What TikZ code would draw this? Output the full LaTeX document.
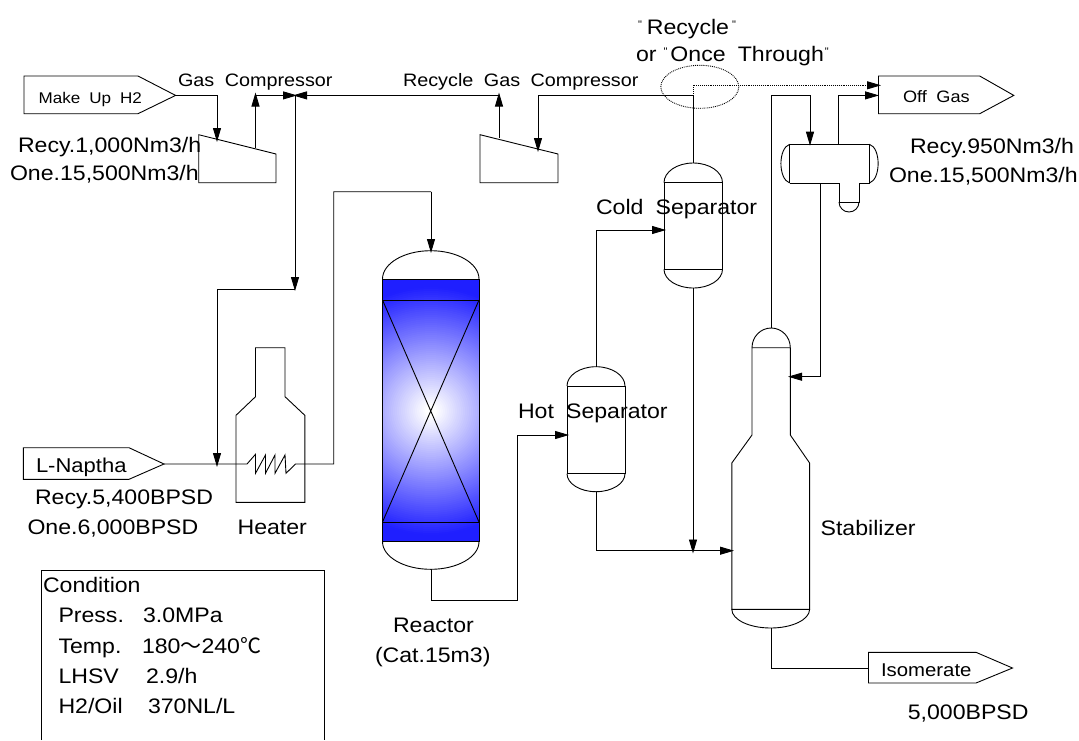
\documentclass[tikz,border=0pt]{standalone}
\usepackage{fontspec}
\setmainfont[FakeStretch=1.1,WordSpace=1.9]{Liberation Sans}
\newfontfamily\cjkjp{Noto Sans CJK JP}
\newfontfamily\quotefont{Liberation Sans}
\newcommand{\tinyq}{\raisebox{6pt}{\quotefont\fontsize{11}{11}\selectfont\char34}}
\usetikzlibrary{arrows.meta}
\newcommand{\domeTo}[4]{.. controls (#1,{#3+0.5523*(#4-#3)}) and ({(#1+#2)/2-0.5523*(#2-#1)/2},#4) .. ({(#1+#2)/2},#4) .. controls ({(#1+#2)/2+0.5523*(#2-#1)/2},#4) and (#2,{#3+0.5523*(#4-#3)}) .. (#2,#3)}
\tikzset{
  eq/.style={draw=black,line width=0.9pt,line join=miter},
  pipe/.style={draw=black,line width=0.9pt},
  flowtip/.style={-{Triangle[length=14pt,width=8pt]}},
  flow/.style={pipe,flowtip},
  dotline/.style={draw=black,line width=0.9pt,densely dotted},
  lbl/.style={anchor=base west,inner sep=0pt,outer sep=0pt,font=\fontsize{21}{24}\selectfont},
  lblmd/.style={lbl,font=\fontsize{18}{21}\selectfont},
  lblsm/.style={lbl,font=\fontsize{15.5}{18}\selectfont},
}
\begin{document}
\begin{tikzpicture}[x=1pt,y=-1pt]
\useasboundingbox (0,0) rectangle (1079,740);
% ports
\coordinate (mkTip) at (175.6,95.4);
\coordinate (mkBend) at (217,95.4);
\coordinate (c1In) at (217,142);
\coordinate (c1Out) at (255.5,148);
\coordinate (c1Top) at (255.5,92.5);
\coordinate (c1Hdr) at (255.5,95.4);
\coordinate (valve) at (295,95.4);
\coordinate (valveL) at (297,95.4);
\coordinate (valveR) at (293,95.4);
\coordinate (rcTop) at (499,92.5);
\coordinate (rcHdr) at (499,95.4);
\coordinate (c2Out) at (499,138);
\coordinate (c2In) at (538,152);
\coordinate (c2Bend) at (538,95.4);
\coordinate (csBend) at (693,95.4);
\coordinate (csTop) at (693,163);
\coordinate (csBot) at (693,288);
\coordinate (dropA) at (295,291);
\coordinate (dropB) at (295,289);
\coordinate (feedL) at (217,289);
\coordinate (feedIn) at (217,467);
\coordinate (lnTip) at (164,464);
\coordinate (coilIn) at (247,464);
\coordinate (coilOut) at (295.5,464);
\coordinate (feedR) at (333.7,464);
\coordinate (feedUp) at (333.7,191.7);
\coordinate (rTopBend) at (431,191.7);
\coordinate (rTop) at (431,253);
\coordinate (rBot) at (431,569.3);
\coordinate (rOutB) at (431,600);
\coordinate (rOutC) at (517.6,600);
\coordinate (rOutD) at (517.6,435);
\coordinate (hsIn) at (569,435);
\coordinate (hsTop) at (596,366.7);
\coordinate (hsUp) at (596,230);
\coordinate (csIn) at (666,230);
\coordinate (hsBot) at (596,491.7);
\coordinate (hsCorner) at (596,550.7);
\coordinate (stIn) at (734,550.7);
\coordinate (csDrop) at (693,553.5);
\coordinate (stTop) at (771,328);
\coordinate (stUp) at (771,95.4);
\coordinate (drTopL) at (810,95.4);
\coordinate (drIn) at (810,145.7);
\coordinate (drOff) at (838.5,144.3);
\coordinate (drOffUp) at (838.5,95.4);
\coordinate (offIn) at (879,95.4);
\coordinate (drBot) at (820,183);
\coordinate (refCorner) at (820,376.7);
\coordinate (stRef) at (788,376.7);
\coordinate (stBot) at (771,628);
\coordinate (stCorner) at (771,668);
\coordinate (isoIn) at (868.5,668);
\coordinate (dotA) at (693,85.3);
\coordinate (dotB) at (881,85.3);
% reactor body
\begin{scope}
\clip (382.5,279) rectangle (479,541.7);
\fill[blue!88!white] (382.5,279) rectangle (479,541.7);
\foreach \r in {140,138,...,2} {
  \pgfmathsetmacro{\mixv}{min(88,max(0,100*(\r-6)/135))}
  \fill[blue!\mixv!white] (431,411) circle (\r);
}
\end{scope}
\draw[eq] (382.5,279) rectangle (479,541.7);
\draw[eq] (382.5,279) \domeTo{382.5}{479}{279}{250.7};
\draw[eq] (382.5,541.7) \domeTo{382.5}{479}{541.7}{569.3};
\draw[eq] (382.5,300) -- (479,300) (382.5,522) -- (479,522);
\draw[eq] (382.5,300) -- (479,522) (479,300) -- (382.5,522);
% stream pentagons
\draw[eq] (24,76) -- (138,76) -- (mkTip) -- (138,113.7) -- (24,113.7) -- cycle;
\draw[eq] (23.4,447.7) -- (129,447.7) -- (lnTip) -- (129,479.3) -- (23.4,479.3) -- cycle;
\draw[eq] (878.5,76) -- (979.7,76) -- (1013.8,95.4) -- (979.7,113.7) -- (878.5,113.7) -- cycle;
\draw[eq] (868.5,652.3) -- (976,652.3) -- (1012.5,668) -- (976,683) -- (868.5,683) -- cycle;
% compressors
\draw[eq] (198.7,134.7) -- (276,154) -- (276,182.7) -- (198.7,182.7) -- cycle;
\draw[eq] (480,134.7) -- (558,154) -- (558,182.7) -- (480,182.7) -- cycle;
% heater
\draw[eq] (255.5,396.7) -- (255.5,347.7) -- (285,347.7) -- (285,396.7) -- (304.8,415.3) -- (304.8,502.3) -- (236,502.3) -- (236,415.3) -- cycle;
% hot separator
\draw[eq] (567,386) rectangle (625,473.7);
\draw[eq] (567,386) \domeTo{567}{625}{386}{366.7};
\draw[eq] (567,473.7) \domeTo{567}{625}{473.7}{491.7};
% cold separator
\draw[eq] (664,182.7) rectangle (722.5,269.3);
\draw[eq] (664,182.7) \domeTo{664}{722.5}{182.7}{163};
\draw[eq] (664,269.3) \domeTo{664}{722.5}{269.3}{288};
% stabilizer
\draw[eq] (752,347.7) -- (752,435) -- (731.8,463) -- (731.8,609.3) -- (809.6,609.3) -- (809.6,463) -- (790.3,435) -- (790.3,347.7) -- cycle;
\draw[eq] (752,347.7) \domeTo{752}{790.3}{347.7}{328};
\draw[eq] (731.8,609.3) \domeTo{731.8}{809.6}{609.3}{628};
% overhead drum
\draw[eq] (789.7,183) -- (789.7,144.3) -- (869.5,144.3) -- (869.5,183) -- (859,183) -- (859,202) -- (839,202) -- (839,183) -- (789.7,183);
\draw[eq] (789.7,144.3) .. controls (778,148) and (778,179) .. (789.7,183);
\draw[eq] (869.5,144.3) .. controls (881,148) and (881,179) .. (869.5,183);
\draw[eq] (839,202) \domeTo{839}{859}{202}{212};
% connectors
\draw[flow] (mkTip) -- (mkBend) -- (c1In);
\draw[flow] (c1Out) -- (c1Top);
\draw[flow] (c1Hdr) -- (valveL);
\draw[flow] (rcHdr) -- (valveR);
\draw[flow] (c2Out) -- (rcTop);
\draw[flow] (csTop) -- (csBend) -- (c2Bend) -- (c2In);
\draw[flow] (valve) -- (dropA);
\draw[flow] (dropB) -- (feedL) -- (feedIn);
\draw[pipe] (lnTip) -- (coilIn) -- (255.5,454.3) -- (255.5,473.3) -- (265.5,455) -- (265.5,473.3) -- (275,455) -- (275,473.3) -- (285,455) -- (286,473.3) -- (coilOut) -- (feedR) -- (feedUp) -- (rTopBend);
\draw[flow] (rTopBend) -- (rTop);
\draw[pipe] (rBot) -- (rOutB) -- (rOutC) -- (rOutD);
\draw[flow] (rOutD) -- (hsIn);
\draw[flow] (hsTop) -- (hsUp) -- (csIn);
\draw[flow] (hsBot) -- (hsCorner) -- (stIn);
\draw[flow] (csBot) -- (csDrop);
\draw[flow] (stTop) -- (stUp) -- (drTopL) -- (drIn);
\draw[flow] (drOff) -- (drOffUp) -- (offIn);
\draw[flow] (drBot) -- (refCorner) -- (stRef);
\draw[pipe] (stBot) -- (stCorner) -- (isoIn);
\draw[dotline,flowtip] (csBend) -- (dotA) -- (dotB);
\draw[dotline] (699.8,86.8) ellipse [x radius=39,y radius=21.5];
% condition frame
\draw[eq] (41.7,740) -- (41.7,570.3) -- (324.4,570.3) -- (324.4,740);
% labels
\node[lblsm] (tMake) at (38.6,103) {Make Up H2};
\node[lblmd] (tGas) at (178,86) {Gas Compressor};
\node[lblmd] (tRec) at (403,86) {Recycle Gas Compressor};
\node[lbl] (t1) at (18,152.7) {Recy.1,000Nm3/h};
\node[lbl] (t2) at (10,180.7) {One.15,500Nm3/h};
\node[lbl] (t3) at (638,34) {\tinyq\hspace{5pt}Recycle\hspace{3pt}\tinyq};
\node[lbl] (t4) at (636,61) {or\hspace{7pt}\tinyq\hspace{3pt}Once Through\hspace{1pt}\tinyq};
\node[lbl] (t5) at (596,214) {Cold Separator};
\node[lbl] (t6) at (910,153) {Recy.950Nm3/h};
\node[lbl] (t7) at (889,182) {One.15,500Nm3/h};
\node[lblsm,font=\fontsize{16.5}{18}\selectfont] (t8) at (903,102.7) {Off Gas};
\node[lbl] (t9) at (518,418) {Hot Separator};
\node[lbl,font=\fontsize{20}{22}\selectfont] (t10) at (36,472.7) {L-Naptha};
\node[lbl] (t11) at (35,504) {Recy.5,400BPSD};
\node[lbl] (t12) at (27.5,534) {One.6,000BPSD};
\node[lbl] (t13) at (237.6,534) {Heater};
\node[lbl] (t14) at (43,592.7) {Condition};
\node[lbl] (t15) at (58.5,622) {Press.};
\node[lbl] (t16) at (143,622) {3.0MPa};
\node[lbl] (t17) at (58.5,653) {Temp.};
\node[lbl] (t18) at (142,653) {180{\cjkjp ～}240{\cjkjp ℃}};
\node[lbl] (t19) at (58.5,683) {LHSV};
\node[lbl] (t20) at (146,683) {2.9/h};
\node[lbl] (t21) at (58.5,713) {H2/Oil};
\node[lbl] (t22) at (148,713) {370NL/L};
\node[lbl] (t23) at (393,632) {Reactor};
\node[lbl] (t24) at (375,662) {(Cat.15m3)};
\node[lbl] (t25) at (820.6,535) {Stabilizer};
\node[lbl,font=\fontsize{18.5}{21}\selectfont] (t26) at (881,676.7) {Isomerate};
\node[lbl] (t27) at (907.8,719) {5,000BPSD};
\end{tikzpicture}
\end{document}
